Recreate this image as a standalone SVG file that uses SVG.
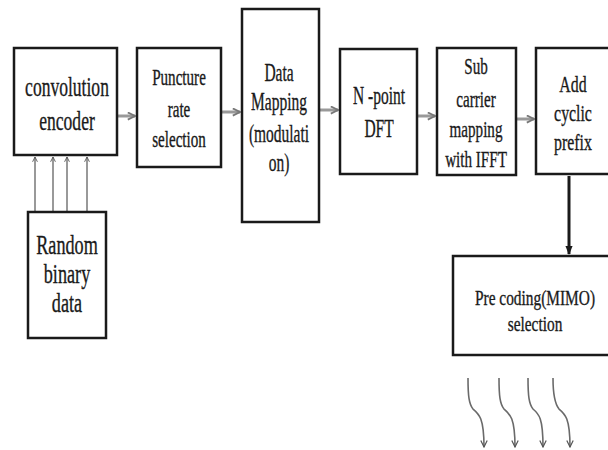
<svg xmlns="http://www.w3.org/2000/svg" width="608" height="450" viewBox="0 0 608 450">
<style>
.box{fill:#fff;stroke:#1a1a1a;stroke-width:2.5}
text{font-family:"Liberation Serif","Times New Roman",serif;fill:#1a1a1a;stroke:#1a1a1a;stroke-width:0.35;text-anchor:middle}
.h{stroke:#999;stroke-width:3;fill:none}
.v{stroke:#555;stroke-width:1.2;fill:none}
.w{stroke:#6a6a6a;stroke-width:1.6;fill:none}
.d{stroke:#1a1a1a;stroke-width:3;fill:none}
</style>
<defs>
<marker id="ag" viewBox="0 0 10 10" refX="9" refY="5" markerWidth="3" markerHeight="3" orient="auto"><path d="M1,1 L9,5 L1,9" fill="none" stroke="#777" stroke-width="2"/></marker>
<marker id="av" viewBox="0 0 10 10" refX="9" refY="5" markerWidth="6" markerHeight="6" orient="auto" markerUnits="userSpaceOnUse"><path d="M1,1 L9,5 L1,9" fill="none" stroke="#555" stroke-width="1.5"/></marker>
<marker id="aw" viewBox="0 0 10 10" refX="9" refY="5" markerWidth="8" markerHeight="8" orient="auto" markerUnits="userSpaceOnUse"><path d="M1,1 L9,5 L1,9" fill="none" stroke="#555" stroke-width="1.5"/></marker>
<marker id="ad" viewBox="0 0 10 10" refX="9" refY="5" markerWidth="3" markerHeight="3" orient="auto"><path d="M0,1 L10,5 L0,9 z" fill="#1a1a1a"/></marker>
</defs>

<g id="connectors">
<path class="h" d="M118,116 H135" marker-end="url(#ag)"/>
<path class="h" d="M222,112 H240" marker-end="url(#ag)"/>
<path class="h" d="M320,110 H338" marker-end="url(#ag)"/>
<path class="h" d="M418,116 H435" marker-end="url(#ag)"/>
<path class="h" d="M517,119 H534" marker-end="url(#ag)"/>
<path class="v" d="M35,212 V157" marker-end="url(#av)"/>
<path class="v" d="M53,212 V157" marker-end="url(#av)"/>
<path class="v" d="M67,212 V157" marker-end="url(#av)"/>
<path class="v" d="M87,212 V157" marker-end="url(#av)"/>
<path class="d" d="M569,176 V254" marker-end="url(#ad)"/>
<path class="w" d="M468,378 C468,396 469,404 473,409 C479,414 484,418 484,447" marker-end="url(#aw)"/>
<path class="w" d="M499,378 C499,396 500,404 504,409 C510,414 515,418 515,447" marker-end="url(#aw)"/>
<path class="w" d="M528,378 C528,396 529,404 533,409 C539,414 543,418 543,447" marker-end="url(#aw)"/>
<path class="w" d="M553,378 C553,396 555,404 559,409 C565,414 570,418 570,447" marker-end="url(#aw)"/>
</g>

<g id="encoder">
<rect class="box" x="14" y="48" width="103" height="107"/>
<text transform="translate(67,0) scale(0.65,1)" font-size="27"><tspan x="0" y="96">convolution</tspan><tspan x="0" y="130">encoder</tspan></text>
</g>
<g id="puncture">
<rect class="box" x="137" y="48" width="84" height="119"/>
<text transform="translate(179,0) scale(0.63,1)" font-size="24"><tspan x="0" y="85">Puncture</tspan><tspan x="0" y="117">rate</tspan><tspan x="0" y="147">selection</tspan></text>
</g>
<g id="mapping">
<rect class="box" x="242" y="9" width="77" height="213"/>
<text transform="translate(279,0) scale(0.62,1)" font-size="25"><tspan x="0" y="81">Data</tspan><tspan x="0" y="110">Mapping</tspan><tspan x="0" y="142">(modulati</tspan><tspan x="0" y="171">on)</tspan></text>
</g>
<g id="dft">
<rect class="box" x="340" y="49" width="77" height="125"/>
<text transform="translate(379,0) scale(0.62,1)" font-size="25"><tspan x="0" y="104">N -point</tspan><tspan x="0" y="137">DFT</tspan></text>
</g>
<g id="subcarrier">
<rect class="box" x="437" y="48" width="79" height="127"/>
<text transform="translate(476,0) scale(0.63,1)" font-size="24"><tspan x="0" y="74">Sub</tspan><tspan x="0" y="107">carrier</tspan><tspan x="0" y="137">mapping</tspan><tspan x="0" y="167">with IFFT</tspan></text>
</g>
<g id="cyclic">
<rect class="box" x="536" y="48" width="80" height="126"/>
<text transform="translate(573,0) scale(0.66,1)" font-size="24"><tspan x="0" y="92">Add</tspan><tspan x="0" y="121">cyclic</tspan><tspan x="0" y="150">prefix</tspan></text>
</g>
<g id="random">
<rect class="box" x="28" y="212" width="78" height="126"/>
<text transform="translate(67,0) scale(0.65,1)" font-size="28"><tspan x="0" y="254">Random</tspan><tspan x="0" y="283">binary</tspan><tspan x="0" y="312">data</tspan></text>
</g>
<g id="precoding">
<rect class="box" x="453" y="256" width="170" height="99"/>
<text transform="translate(535,0) scale(0.7,1)" font-size="22"><tspan x="0" y="305">Pre coding(MIMO)</tspan><tspan x="0" y="331">selection</tspan></text>
</g>
</svg>
